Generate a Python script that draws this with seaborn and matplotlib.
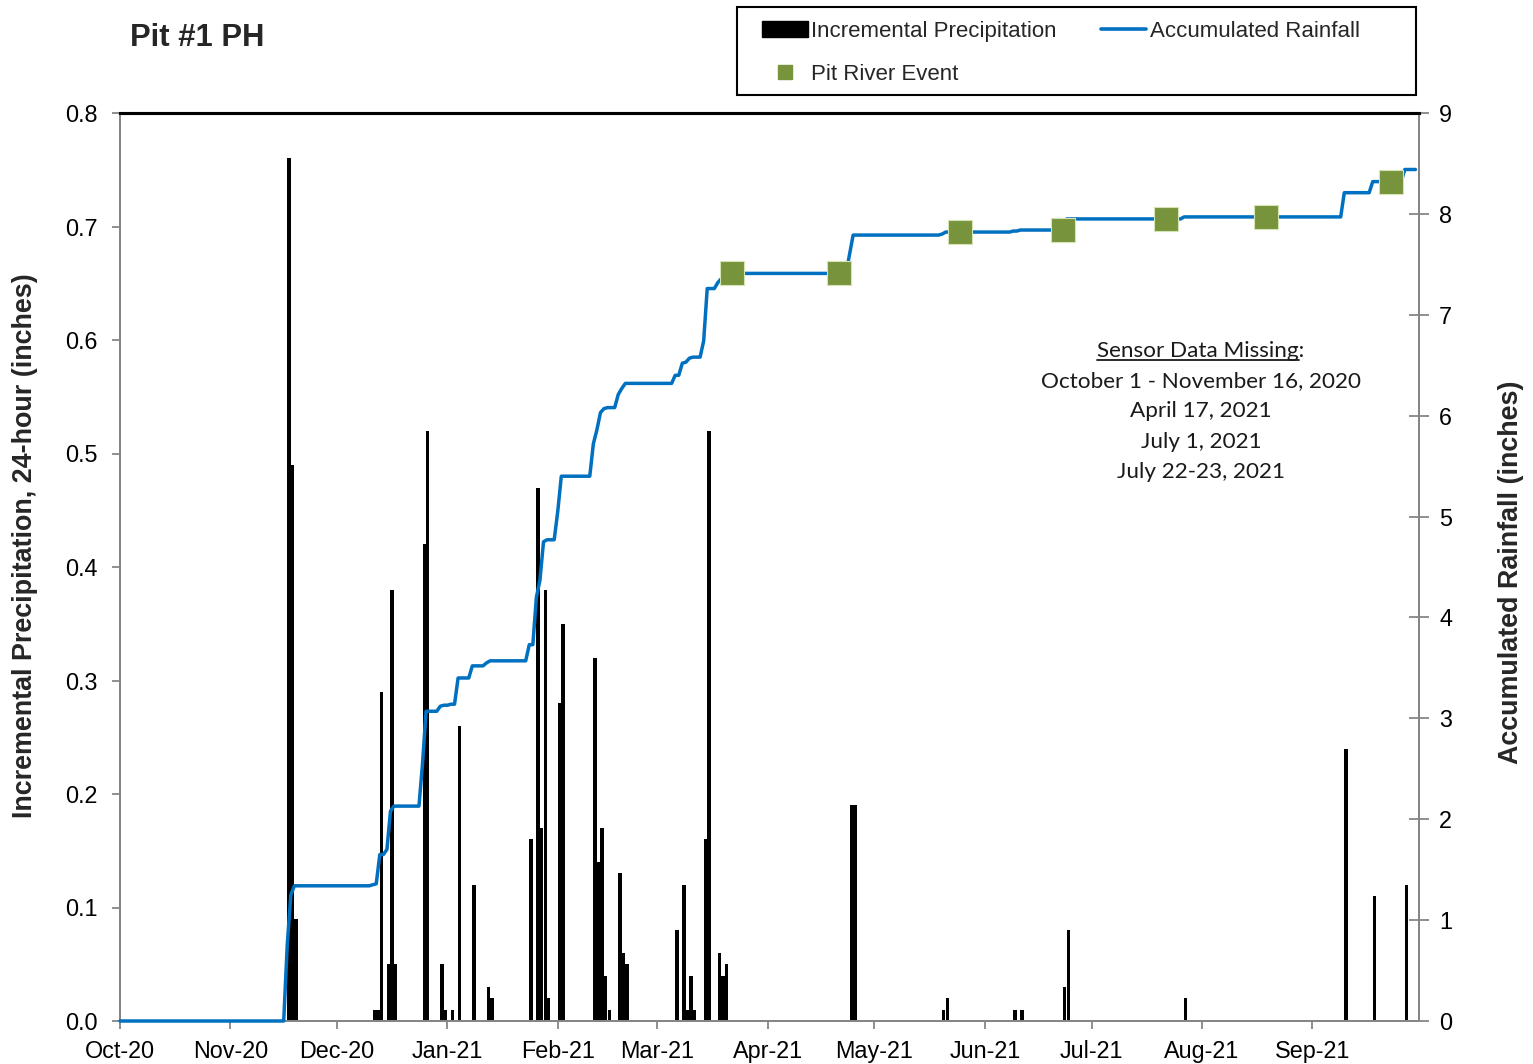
import numpy as np
import pandas as pd
import matplotlib
matplotlib.use("Agg")
import matplotlib.pyplot as plt
import matplotlib.dates as mdates
import matplotlib.ticker as mticker
from matplotlib.patches import Patch, Rectangle
from matplotlib.lines import Line2D
import seaborn as sns

# ---------------- data ----------------
rain_dates = ['2020-11-17', '2020-11-18', '2020-11-19',
              '2020-12-11', '2020-12-12', '2020-12-13', '2020-12-15', '2020-12-16', '2020-12-17',
              '2020-12-25', '2020-12-26', '2020-12-30', '2020-12-31',
              '2021-01-02', '2021-01-04', '2021-01-08', '2021-01-12', '2021-01-13',
              '2021-01-24', '2021-01-26', '2021-01-27', '2021-01-28', '2021-01-29',
              '2021-02-01', '2021-02-02',
              '2021-02-11', '2021-02-12', '2021-02-13', '2021-02-14', '2021-02-15',
              '2021-02-18', '2021-02-19', '2021-02-20',
              '2021-03-06', '2021-03-08', '2021-03-09', '2021-03-10', '2021-03-11',
              '2021-03-14', '2021-03-15', '2021-03-18', '2021-03-19', '2021-03-20',
              '2021-04-24', '2021-04-25',
              '2021-05-20', '2021-05-21',
              '2021-06-09', '2021-06-11', '2021-06-23', '2021-06-24',
              '2021-07-27',
              '2021-09-10', '2021-09-18', '2021-09-27']
rain_inches = [0.76, 0.49, 0.09,
               0.01, 0.01, 0.29, 0.05, 0.38, 0.05,
               0.42, 0.52, 0.05, 0.01,
               0.01, 0.26, 0.12, 0.03, 0.02,
               0.16, 0.47, 0.17, 0.38, 0.02,
               0.28, 0.35,
               0.32, 0.14, 0.17, 0.04, 0.01,
               0.13, 0.06, 0.05,
               0.08, 0.12, 0.01, 0.04, 0.01,
               0.16, 0.52, 0.06, 0.04, 0.05,
               0.19, 0.19,
               0.01, 0.02,
               0.01, 0.01, 0.03, 0.08,
               0.02,
               0.24, 0.11, 0.12]

period_start = '2020-10-01'
period_end = '2021-09-30'

event_dates = ['2021-03-22', '2021-04-21', '2021-05-25', '2021-06-23',
               '2021-07-22', '2021-08-19', '2021-09-23']
event_inches = [7.41, 7.41, 7.82, 7.84, 7.95, 7.97, 8.32]

month_ticks = pd.date_range('2020-10-01', '2021-09-01', freq='MS')
left_ticks = [0.0, 0.1, 0.2, 0.3, 0.4, 0.5, 0.6, 0.7, 0.8]
right_ticks = [0, 1, 2, 3, 4, 5, 6, 7, 8, 9]

missing_lines = ["Sensor Data Missing:",
                 "October 1 - November 16, 2020",
                 "April 17, 2021",
                 "July 1, 2021",
                 "July 22-23, 2021"]

# ---------------- style ----------------
sns.set_theme(style="white")
plt.rcParams['font.family'] = ['Liberation Sans', 'DejaVu Sans']

W, H = 1533, 1064
fig = plt.figure(figsize=(W / 100, H / 100), dpi=100)
fig.patch.set_facecolor('white')

ax = fig.add_axes([120 / W, 43 / H, 1299 / W, 908 / H])
ax2 = ax.twinx()

BLUE = '#0070C0'
GREEN = '#77933C'
GRAY = '#868686'

# incremental precipitation bars
x_rain = mdates.date2num(pd.to_datetime(rain_dates))
ax.bar(x_rain, rain_inches, width=0.95, align='edge', color='black',
       linewidth=0, zorder=2)

# accumulated rainfall line (cumulative total of daily series)
daily = pd.Series(rain_inches, index=pd.to_datetime(rain_dates)).reindex(
    pd.date_range(period_start, period_end, freq='D'), fill_value=0.0)
accum = daily.cumsum()
df_line = pd.DataFrame({'date': mdates.date2num(accum.index), 'accum': accum.values})
sns.lineplot(data=df_line, x='date', y='accum', ax=ax2, color=BLUE,
             linewidth=2.5, zorder=3, clip_on=False)

# Pit River events
df_ev = pd.DataFrame({'date': mdates.date2num(pd.to_datetime(event_dates)),
                      'accum': event_inches})
sns.scatterplot(data=df_ev, x='date', y='accum', ax=ax2, marker='s', s=290,
                color=GREEN, edgecolor='#d5e3b5', linewidth=0.8, zorder=5)

# ---------------- axes ----------------
ax.set_xlim(mdates.date2num(pd.Timestamp('2020-10-01')),
            mdates.date2num(pd.Timestamp('2021-10-01')))
ax.set_ylim(0, 0.8)
ax2.set_ylim(0, 9)

ax.set_xticks(mdates.date2num(month_ticks))
ax.xaxis.set_major_formatter(mdates.DateFormatter('%b-%y'))
ax.set_yticks(left_ticks)
ax.yaxis.set_major_formatter(mticker.FormatStrFormatter('%.1f'))
ax2.set_yticks(right_ticks)

ax.set_xlabel('')
ax.set_ylabel('')
ax2.set_xlabel('')
ax2.set_ylabel('')

ax.tick_params(axis='x', bottom=True, direction='out', length=6, width=1.3,
               color=GRAY, pad=8, labelsize=16.8, labelcolor='black')
ax.tick_params(axis='y', left=True, direction='out', length=6, width=1.3,
               color=GRAY, pad=10, labelsize=16.8, labelcolor='black')
ax2.tick_params(axis='y', right=True, direction='inout', length=15, width=1.3,
                color=GRAY, pad=7, labelsize=16.8, labelcolor='black')

for a in (ax, ax2):
    for s in ('left', 'right', 'bottom'):
        a.spines[s].set_visible(True)
        a.spines[s].set_color(GRAY)
        a.spines[s].set_linewidth(1.4)
    a.spines['top'].set_visible(True)
    a.spines['top'].set_color('black')
    a.spines['top'].set_linewidth(2.2)
    a.grid(False)

# axis titles
fig.text(25 / W, 1 - 546 / H, 'Incremental Precipitation, 24-hour (inches)',
         rotation=90, ha='center', va='center', fontsize=19.4, fontweight='bold')
fig.text(1511 / W, 1 - 572 / H, 'Accumulated Rainfall (inches)',
         rotation=90, ha='center', va='center', fontsize=19.4, fontweight='bold')

# chart title
fig.text(130 / W, 1 - 38 / H, 'Pit #1 PH', ha='left', va='center',
         fontsize=22.3, fontweight='bold')

# legend box and entries
fig.add_artist(Rectangle((737 / W, 1 - 95 / H), 679 / W, 88 / H,
                         transform=fig.transFigure, fill=False,
                         edgecolor='black', linewidth=1.5))
handles = [Patch(facecolor='black', edgecolor='black'),
           Line2D([], [], marker='s', linestyle='', markersize=9.5,
                  color=GREEN),
           Line2D([], [], color=BLUE, linewidth=2.6)]
labels = ['Incremental Precipitation', 'Pit River Event', 'Accumulated Rainfall']
fig.legend(handles, labels, loc='upper left',
           bbox_to_anchor=(762 / W, 1 - 21 / H), bbox_transform=fig.transFigure,
           ncol=2, frameon=False, borderpad=0, borderaxespad=0,
           handlelength=2.05, handletextpad=0.15, columnspacing=2.0,
           labelspacing=1.0, fontsize=16)

# missing-data note
note_y = [351, 381, 411, 442, 472]
note_texts = []
for txt, yy in zip(missing_lines, note_y):
    t = fig.text(1201 / W, 1 - yy / H, txt, ha='center', va='center',
                 fontsize=16.2, color='#1a1a1a', family=['Lato', 'DejaVu Sans'])
    note_texts.append(t)

fig.canvas.draw()
renderer = fig.canvas.get_renderer()
t0 = note_texts[0]
bb = t0.get_window_extent(renderer)
tmp = fig.text(0, 0, 'Sensor Data Missing', fontsize=16.2,
               family=['Lato', 'DejaVu Sans'])
w1 = tmp.get_window_extent(renderer).width
tmp.remove()
uy = bb.y0 + 1.5
fig.add_artist(Line2D([bb.x0 / W, (bb.x0 + w1) / W], [uy / H, uy / H],
                      transform=fig.transFigure, color='#1a1a1a', linewidth=1.3))

fig.savefig('out.png', dpi=100, facecolor='white')
